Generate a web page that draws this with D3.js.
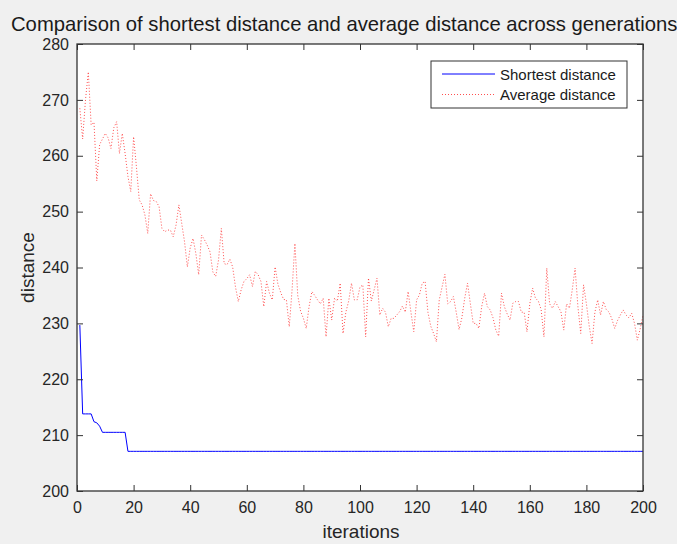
<!DOCTYPE html>
<html>
<head>
<meta charset="utf-8">
<script src="https://cdn.jsdelivr.net/npm/d3@7"></script>
<style>
  body { margin: 0; background: #f0f0f0; }
  svg { display: block; font-family: "Liberation Sans", Arial, sans-serif; }
</style>
</head>
<body>
<div id="chart"></div>
<script>
// shortest distance per iteration (1..200)
var shortest = [229.7, 213.8, 213.8, 213.8, 213.8, 212.4, 212.2, 211.6, 210.5, 210.5,
    210.5, 210.5, 210.5, 210.5, 210.5, 210.5, 210.5, 207.1]
while (shortest.length < 200) shortest.push(207.1)

// average distance per iteration (1..200)
var average = [
    268.5, 263.0, 270.0, 275.0, 265.5, 266.0, 255.5, 262.0, 263.0, 264.0,
    263.2, 261.3, 265.0, 266.1, 260.4, 264.0, 260.4, 256.3, 253.6, 263.4,
    258.0, 252.1, 251.2, 249.4, 246.1, 253.2, 252.0, 251.8, 250.9, 247.0,
    246.4, 246.7, 246.7, 245.5, 247.6, 251.2, 247.9, 244.6, 240.1, 243.5,
    245.2, 242.5, 238.7, 245.8, 245.0, 244.0, 242.8, 239.2, 238.4, 241.3,
    247.0, 240.7, 240.5, 241.5, 240.1, 236.5, 233.9, 236.0, 237.5, 238.0,
    238.7, 236.6, 239.3, 238.7, 237.5, 233.0, 237.5, 235.4, 234.2, 240.1,
    237.0, 235.5, 234.3, 234.2, 229.4, 236.0, 244.3, 235.0, 232.2, 230.9,
    229.1, 233.0, 235.7, 235.0, 234.2, 233.5, 234.5, 227.6, 234.5, 230.6,
    234.5, 234.0, 237.2, 228.2, 232.0, 234.0, 237.2, 234.2, 234.2, 236.5,
    236.9, 227.6, 238.1, 234.0, 236.0, 238.1, 231.5, 232.7, 232.0, 229.4,
    230.9, 230.9, 231.5, 232.1, 233.1, 232.0, 235.7, 232.0, 228.5, 234.2,
    235.1, 237.2, 237.5, 232.0, 229.5, 228.2, 226.7, 234.2, 236.5, 238.8,
    233.5, 233.9, 234.8, 232.0, 228.9, 231.0, 234.5, 237.2, 233.5, 230.0,
    230.0, 229.1, 233.0, 235.4, 233.0, 232.4, 231.0, 228.8, 227.7, 235.4,
    233.0, 231.7, 230.6, 233.6, 233.9, 233.9, 232.0, 232.0, 228.5, 233.5,
    236.3, 234.5, 234.0, 232.5, 227.6, 239.9, 233.5, 232.7, 233.9, 233.0,
    232.1, 228.8, 233.5, 232.7, 236.0, 239.9, 233.0, 228.2, 236.9, 233.5,
    229.5, 226.4, 232.0, 234.2, 231.5, 233.9, 232.5, 232.0, 230.8, 229.1,
    230.5, 231.5, 232.4, 231.5, 231.0, 231.8, 230.0, 227.0, 229.0, 231.5
]

var xTicks = [0, 20, 40, 60, 80, 100, 120, 140, 160, 180, 200]
var yTicks = [200, 210, 220, 230, 240, 250, 260, 270, 280]
var legendLabels = ['Shortest distance', 'Average distance']

function drawChart() {
    var W = 677, H = 544
    var pLeft = 77, pRight = 643, pTop = 44, pBottom = 491
    var axisColor = '#333333'
    var red = '#ff3030'

    var svg = d3.select('#chart').append('svg').attr('width', W).attr('height', H)
    svg.append('rect').attr('width', W).attr('height', H).attr('fill', '#f0f0f0')

    var x = d3.scaleLinear().domain([0, 200]).range([pLeft, pRight])
    var y = d3.scaleLinear().domain([200, 280]).range([pBottom, pTop])

    svg.append('rect')
        .attr('x', pLeft).attr('y', pTop)
        .attr('width', pRight - pLeft).attr('height', pBottom - pTop)
        .attr('fill', '#ffffff')

    var line = d3.line().x((d, i) => x(i + 1)).y(d => y(d))

    svg.append('path')
        .datum(average)
        .attr('d', line)
        .attr('fill', 'none')
        .attr('stroke', red)
        .attr('stroke-opacity', 0.85)
        .attr('stroke-width', 1)
        .attr('stroke-dasharray', '1,2')

    svg.append('path')
        .datum(shortest)
        .attr('d', line)
        .attr('fill', 'none')
        .attr('stroke', '#0000ff')
        .attr('stroke-width', 1)

    // axes, ticks pointing inward
    function styleAxis(g) {
        g.select('.domain').remove()
        g.selectAll('.tick line').attr('stroke', axisColor)
        g.selectAll('.tick text').attr('fill', '#262626').attr('font-size', 16)
            .attr('font-family', '"Liberation Sans", Arial, sans-serif')
    }

    svg.append('g')
        .attr('transform', 'translate(0,' + pBottom + ')')
        .call(d3.axisBottom(x).tickValues(xTicks).tickSizeInner(-6).tickSizeOuter(0).tickPadding(11))
        .call(styleAxis)

    svg.append('g')
        .attr('transform', 'translate(' + pLeft + ',0)')
        .call(d3.axisLeft(y).tickValues(yTicks).tickSizeInner(-6).tickSizeOuter(0).tickPadding(8))
        .call(styleAxis)

    svg.append('g')
        .attr('transform', 'translate(0,' + pTop + ')')
        .call(d3.axisTop(x).tickValues(xTicks).tickSizeInner(-6).tickSizeOuter(0).tickFormat(''))
        .call(styleAxis)

    svg.append('g')
        .attr('transform', 'translate(' + pRight + ',0)')
        .call(d3.axisRight(y).tickValues(yTicks).tickSizeInner(-6).tickSizeOuter(0).tickFormat(''))
        .call(styleAxis)

    svg.append('rect')
        .attr('x', pLeft).attr('y', pTop)
        .attr('width', pRight - pLeft).attr('height', pBottom - pTop)
        .attr('fill', 'none').attr('stroke', axisColor).attr('stroke-width', 1.3)

    // labels
    var title = svg.append('text')
        .attr('x', 11).attr('y', 31)
        .attr('fill', '#1a1a1a')
        .attr('font-size', 17)
        .text('Comparison of shortest distance and average distance across generations')
    var tw = title.node().getComputedTextLength()
    title.attr('font-size', 17 * 667 / tw)

    svg.append('text')
        .attr('x', 361).attr('y', 538)
        .attr('text-anchor', 'middle')
        .attr('fill', '#262626')
        .attr('font-size', 19)
        .text('iterations')

    svg.append('text')
        .attr('transform', 'translate(34,' + ((pTop + pBottom) / 2) + ') rotate(-90)')
        .attr('text-anchor', 'middle')
        .attr('fill', '#262626')
        .attr('font-size', 19)
        .text('distance')

    // legend
    var legend = svg.append('g')
    legend.append('rect')
        .attr('x', 431).attr('y', 61).attr('width', 196).attr('height', 47)
        .attr('fill', '#ffffff').attr('stroke', axisColor).attr('stroke-width', 1)

    var legendStyles = [
        { color: '#0000ff', dash: null, op: 1 },
        { color: red, dash: '1,2', op: 0.85 }
    ]
    legendLabels.forEach(function (lab, i) {
        var ly = 74 + i * 20.5
        legend.append('line')
            .attr('x1', 442).attr('x2', 495).attr('y1', ly).attr('y2', ly)
            .attr('stroke', legendStyles[i].color)
            .attr('stroke-opacity', legendStyles[i].op)
            .attr('stroke-width', 1)
            .attr('stroke-dasharray', legendStyles[i].dash)
        legend.append('text')
            .attr('x', 500).attr('y', ly + 5.5)
            .attr('fill', '#1a1a1a')
            .attr('font-size', 15)
            .text(lab)
    })
}

drawChart()
</script>
</body>
</html>
